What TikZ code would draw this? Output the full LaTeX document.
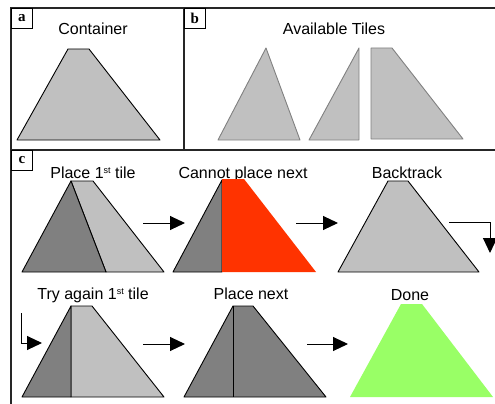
\documentclass[tikz,border=0pt]{standalone}
\usepackage{fontspec}
\setmainfont{Liberation Sans}
\newfontfamily\labfont{Liberation Serif}
\usetikzlibrary{arrows.meta}
\definecolor{lgray}{RGB}{192,192,192}
\definecolor{dgray}{RGB}{128,128,128}
\definecolor{tred}{RGB}{255,51,0}
\definecolor{tgreen}{RGB}{153,255,102}
\newcommand{\supst}{\raisebox{5pt}{\fontsize{9}{9}\selectfont st}}
\tikzset{
  frame/.style={line width=1.4pt, draw=black!85},
  panellabel/.style={draw, line width=0.8pt, minimum width=21pt, minimum height=20pt, inner sep=0pt, font=\labfont\bfseries\fontsize{15}{15}\selectfont},
  title/.style={anchor=base, inner sep=0pt, font=\fontsize{16}{19}\selectfont},
  tileA/.style={fill=lgray, draw=black, line width=0.9pt, line join=round},
  tileB/.style={fill=lgray, draw=dgray, line width=0.9pt, line join=round},
  tileD/.style={fill=dgray, draw=black, line width=0.9pt, line join=round},
  flow/.style={line width=1pt, -{Triangle[length=15pt,width=14pt]}}
}
\begin{document}
\begin{tikzpicture}[x=1pt,y=-1pt]
\useasboundingbox (0,0) rectangle (495,404);
% frame
\draw[frame] (495,8) -- (11,8) -- (11,404);
\draw[frame] (11,150) -- (495,150);
\draw[frame] (184,8) -- (184,150);
\node[panellabel, anchor=north west] (la) at (11,8) {a};
\node[panellabel, anchor=north west] (lb) at (184,8) {b};
\node[panellabel, anchor=north west] (lc) at (11,150) {c};
% panel a
\node[title] (tcont) at (93,35) {Container};
\draw[tileA] (17,140) -- (68,49) -- (89,49) -- (160,140) -- cycle;
% panel b
\node[title] (tavail) at (334,35) {Available Tiles};
\draw[tileB] (218,140) -- (266,48) -- (300,140) -- cycle;
\draw[tileB] (309,140) -- (359,48) -- (359,140) -- cycle;
\draw[tileB] (371,139) -- (371,48) -- (392,48) -- (463,139) -- cycle;
% row 1
\node[title] (t1) at (93,178) {Place 1\supst\ tile};
\draw[tileA] (71,181) -- (93,181) -- (164,272) -- (106,272) -- cycle;
\draw[tileD] (22,272) -- (71,181) -- (106,272) -- cycle;

\node[title] (t2) at (243,178) {Cannot place next};
\draw[tileD] (173,272) -- (222,180) -- (222,272) -- cycle;
\fill[tred] (222,179) -- (244,179) -- (316,272) -- (222,272) -- cycle;

\node[title] (t3) at (407,178) {Backtrack};
\draw[tileA] (338,272) -- (388,181) -- (408,181) -- (479,272) -- cycle;

% row 2
\node[title] (t4) at (93,299) {Try again 1\supst\ tile};
\draw[tileA] (71,306) -- (92,306) -- (164,397) -- (71,397) -- cycle;
\draw[tileD] (22,397) -- (71,306) -- (71,397) -- cycle;

\node[title] (t5) at (251,299) {Place next};
\draw[tileD] (184,397) -- (233,306) -- (253,306) -- (326,397) -- cycle;
\draw[line width=0.9pt] (233,306) -- (233,397);

\node[title] (t6) at (410,300) {Done};
\fill[tgreen] (350,397) -- (401,304) -- (422,304) -- (493,397) -- cycle;

% arrows
\coordinate (a1s) at (143,223); \coordinate (a1e) at (185,223);
\coordinate (a2s) at (296,223); \coordinate (a2e) at (338,223);
\coordinate (a3s) at (143,344); \coordinate (a3e) at (185,344);
\coordinate (a4s) at (307,344); \coordinate (a4e) at (348,344);
\coordinate (b1s) at (449,222); \coordinate (b1e) at (490,253);
\coordinate (b2s) at (21,313);  \coordinate (b2e) at (42,343);
\draw[flow] (a1s) -- (a1e);
\draw[flow] (a2s) -- (a2e);
\draw[flow] (a3s) -- (a3e);
\draw[flow] (a4s) -- (a4e);
\draw[flow] (b1s) -| (b1e);
\draw[flow] (b2s) |- (b2e);
\end{tikzpicture}
\end{document}
